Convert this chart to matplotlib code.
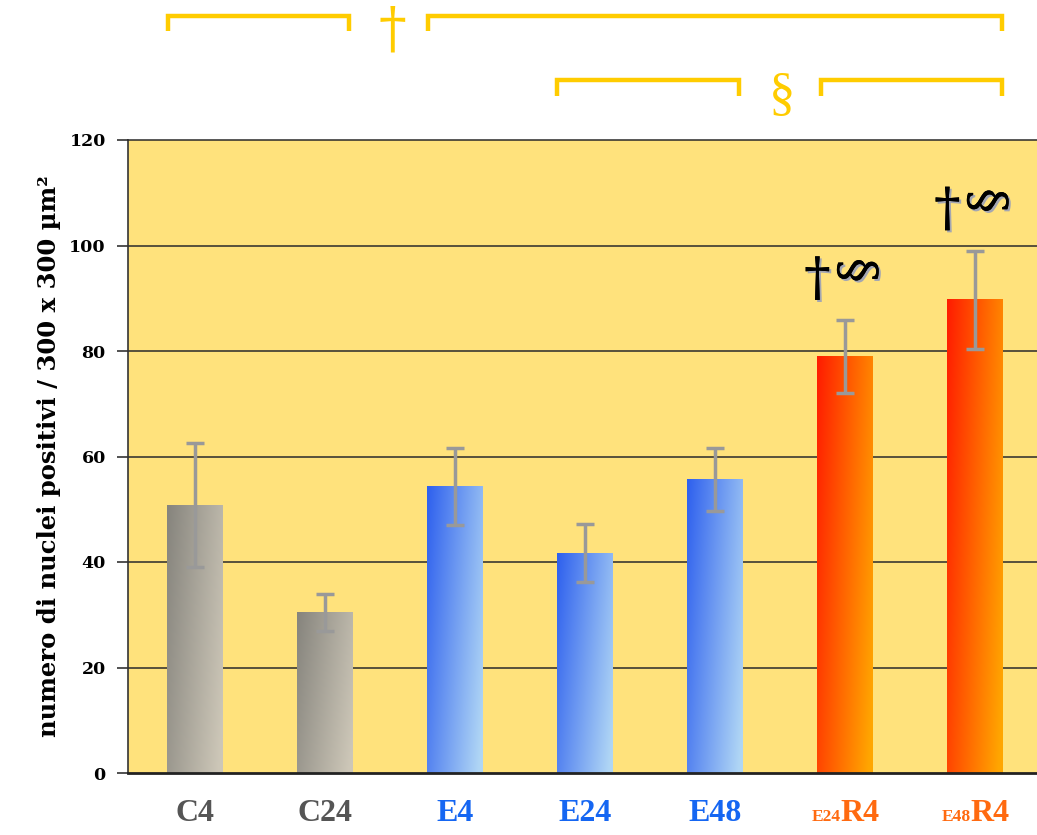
import numpy as np
import matplotlib
matplotlib.use("Agg")
import matplotlib.pyplot as plt
import matplotlib.transforms as mtransforms
import matplotlib.patheffects as pe
from matplotlib.colors import to_rgb

# ---- data ----
categories = ["C4", "C24", "E4", "E24", "E48", "E24R4", "E48R4"]
means = [50.8, 30.5, 54.4, 41.7, 55.7, 78.9, 89.7]
errors = [11.8, 3.5, 7.3, 5.5, 6.0, 6.9, 9.3]
groups = ["C", "C", "E", "E", "E", "R", "R"]
yticks = [0, 20, 40, 60, 80, 100, 120]
ylabel = "numero di nuclei positivi / 300 x 300 µm²"

grad_colors = {
    "C": ("#86847d", "#cdc7b8"),
    "E": ("#2e60ee", "#b0d6f5"),
    "R": ("#ff1c00", "#ffa600"),
}
label_colors = {"C": "#555555", "E": "#1566f2", "R": "#ff6a10"}

gold = "#FFCC00"
bg = "#FFE27C"

fig = plt.figure(figsize=(10.37, 8.35), dpi=100)
ax = fig.add_axes([128 / 1037, 62 / 835, 909 / 1037, 633 / 835])
ax.set_facecolor(bg)

x = np.arange(len(categories))
bars = ax.bar(x, means, width=0.43, color="none", zorder=2)

# gradient fill for each bar
for b, g in zip(bars, groups):
    c0 = np.array(to_rgb(grad_colors[g][0]))
    c1 = np.array(to_rgb(grad_colors[g][1]))
    nx, ny = 64, 64
    gx = np.linspace(0, 1, nx)[None, :]
    gy = np.linspace(0, 1, ny)[:, None]  # 0 top, 1 bottom
    t = np.clip(0.75 * gx + 0.3 * gy, 0, 1)
    img = c0[None, None, :] * (1 - t[..., None]) + c1[None, None, :] * t[..., None]
    x0 = b.get_x()
    ax.imshow(img, extent=[x0, x0 + b.get_width(), 0, b.get_height()],
              aspect="auto", zorder=2, interpolation="bilinear")

ax.errorbar(x, means, yerr=errors, fmt="none", ecolor="#999999",
            elinewidth=2.5, capsize=6.5, capthick=2.5, zorder=3)

ax.set_xlim(-0.515, 6.48)
ax.set_ylim(0, 120)
ax.set_yticks(yticks)
ax.set_yticklabels([str(v) for v in yticks], fontfamily="DejaVu Serif",
                   fontweight="bold", fontsize=12.5)
ax.tick_params(axis="y", direction="out", length=8, width=1.2, color="#333333", pad=8)
ax.set_xticks([])

for v in yticks[1:-1]:
    ax.axhline(v, color="#2a2a2a", lw=1.1, zorder=1)

ax.spines["right"].set_visible(False)
ax.spines["top"].set_color("#2a2a2a")
ax.spines["top"].set_linewidth(1.1)
ax.spines["left"].set_color("#333333")
ax.spines["left"].set_linewidth(1.2)
ax.spines["bottom"].set_color("#222222")
ax.spines["bottom"].set_linewidth(2)

ax.set_ylabel(ylabel, fontfamily="DejaVu Serif", fontweight="bold",
              fontsize=17.5, labelpad=6)

# category labels
trans = mtransforms.blended_transform_factory(ax.transData, ax.transAxes)
lab_y = -0.076
big = 23
small = 12.5
for i, (cat, g) in enumerate(zip(categories, groups)):
    col = label_colors[g]
    if g == "R":
        dx = -0.03
        ax.text(i + dx, lab_y, cat[:3], transform=trans, ha="right", va="baseline",
                fontfamily="Liberation Serif", fontweight="bold", fontsize=small, color=col)
        ax.text(i + dx, lab_y, cat[3:], transform=trans, ha="left", va="baseline",
                fontfamily="Liberation Serif", fontweight="bold", fontsize=big, color=col)
    else:
        ax.text(i, lab_y, cat, transform=trans, ha="center", va="baseline",
                fontfamily="Liberation Serif", fontweight="bold", fontsize=big, color=col)

# significance brackets on top
def bracket(xa, xb, ytop, ybot):
    ax.plot([xa, xa, xb, xb], [ybot, ytop, ytop, ybot], transform=trans,
            color=gold, lw=3.2, clip_on=False, solid_joinstyle="miter",
            solid_capstyle="butt")

bracket(-0.208, 1.185, 1.196, 1.172)
bracket(1.792, 6.208, 1.196, 1.172)
bracket(2.785, 4.19, 1.095, 1.0695)
bracket(4.815, 6.208, 1.095, 1.0695)
ax.text(1.52, 1.172, "†", transform=trans, ha="center", va="center", color=gold,
        fontfamily="DejaVu Serif", fontsize=40, clip_on=False)
ax.text(4.52, 1.07, "§", transform=trans, ha="center", va="center", color=gold,
        fontfamily="Liberation Serif", fontsize=38, clip_on=False)

# marks above the R bars
shadow = [pe.withSimplePatchShadow(offset=(1.5, -1.5), shadow_rgbFace="#9aa0b8", alpha=0.9),
          pe.Normal()]
for i in (5, 6):
    top = means[i] + errors[i]
    ax.text(i - 0.21, top + 7.6, "†", ha="center", va="center", color="black",
            fontfamily="DejaVu Serif", fontsize=38, path_effects=shadow, zorder=4)
    ax.text(i + 0.12, top + 9.5, "§", ha="center", va="center", color="black",
            fontfamily="DejaVu Serif", fontsize=36, rotation=90,
            path_effects=shadow, zorder=4)

fig.savefig("out.png", dpi=100, facecolor="white")
